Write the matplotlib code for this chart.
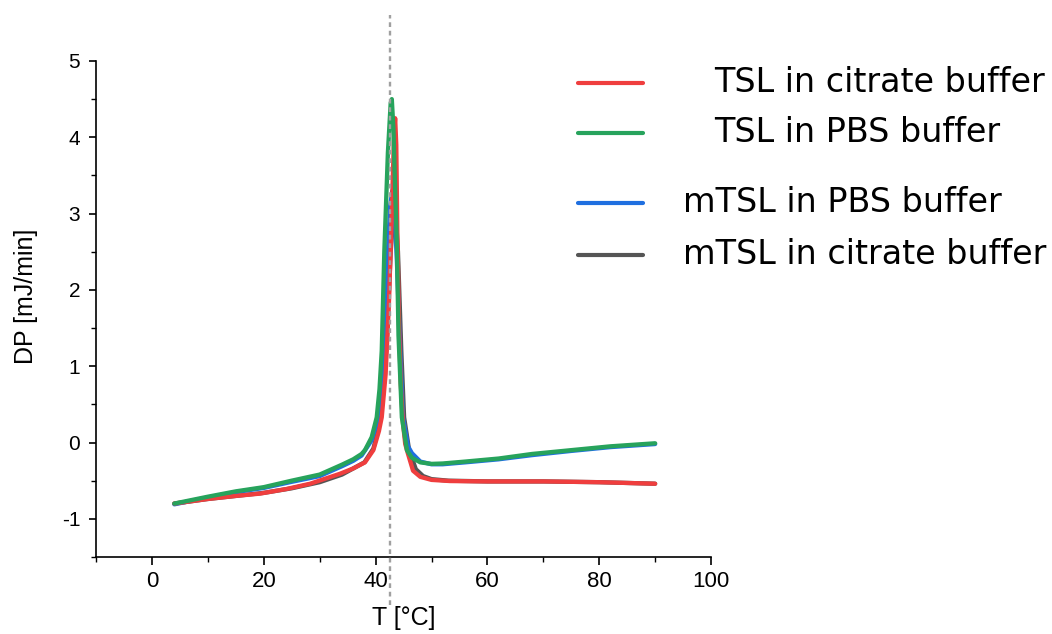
import matplotlib
matplotlib.use("Agg")
import matplotlib.pyplot as plt
from matplotlib.lines import Line2D
from matplotlib.ticker import MultipleLocator

# temperature [°C] and DP [mJ/min]
t_tsl_pbs = [4, 10, 15, 20, 25, 30, 34, 36, 37.5, 38.1, 39.3, 40.2, 40.7, 41.1, 41.56, 42.2, 42.7, 42.9,
             43.2, 43.5, 43.8, 44.1, 44.7, 45.6, 46.5, 48, 50, 52, 56, 62, 68, 75, 82, 90]
dp_tsl_pbs = [-0.80, -0.71, -0.64, -0.585, -0.50, -0.42, -0.29, -0.22, -0.15, -0.1, 0.07, 0.33, 0.7, 1.2, 2.5, 3.8, 4.45, 4.5,
              4.1, 3.3, 2.6, 1.4, 0.33, -0.1, -0.2, -0.26, -0.28, -0.275, -0.25, -0.21, -0.15, -0.10, -0.05, -0.01]

t_mtsl_pbs = [4, 10, 15, 20, 25, 30, 34, 36, 37.5, 39.3, 40.2, 41.0, 41.7, 42.2, 42.6, 43.0,
              43.4, 43.8, 44.4, 44.9, 45.8, 46.5, 48, 50, 52, 56, 62, 68, 75, 82, 90]
dp_mtsl_pbs = [-0.81, -0.72, -0.65, -0.595, -0.515, -0.44, -0.31, -0.24, -0.17, 0.03, 0.25, 0.65, 1.2, 2.5, 3.1, 3.3,
               3.0, 2.4, 1.2, 0.33, -0.05, -0.14, -0.25, -0.285, -0.285, -0.26, -0.22, -0.165, -0.11, -0.06, -0.02]

t_tsl_cit = [4, 10, 15, 19.3, 24, 28.3, 33.6, 36, 38.1, 39.6, 40.6, 41.1, 41.8, 42.4, 42.9, 43.3, 43.5,
             43.7, 43.9, 44.2, 44.5, 44.9, 45.3, 45.8, 46.7, 48, 50, 53.3, 60, 70, 80, 90]
dp_tsl_cit = [-0.80, -0.74, -0.70, -0.67, -0.61, -0.54, -0.41, -0.34, -0.26, -0.1, 0.15, 0.33, 0.9, 1.86, 3.0, 4.05, 4.25,
              3.9, 2.7, 1.5, 0.77, 0.25, -0.02, -0.15, -0.37, -0.45, -0.49, -0.505, -0.51, -0.51, -0.52, -0.54]

t_mtsl_cit = [4, 10, 15, 20, 25, 30, 34, 38, 39.6, 40.5, 41.3, 42.0, 42.7, 43.3, 43.6,
              44.0, 44.6, 45.1, 46.0, 47.2, 48.5, 50, 53, 60, 70, 80, 90]
dp_mtsl_cit = [-0.80, -0.74, -0.70, -0.66, -0.60, -0.52, -0.42, -0.26, -0.08, 0.18, 0.6, 1.3, 2.5, 3.1, 3.0,
               2.5, 1.2, 0.33, -0.1, -0.35, -0.44, -0.48, -0.50, -0.51, -0.51, -0.52, -0.54]

t_transition = 42.6

labels = ["TSL in citrate buffer", "TSL in PBS buffer", "mTSL in PBS buffer", "mTSL in citrate buffer"]
colors = ["#ef3e3e", "#27a35c", "#1f6fe0", "#555555"]

plt.rcParams["font.family"] = ["Liberation Sans", "DejaVu Sans"]
plt.rcParams["axes.unicode_minus"] = False

fig = plt.figure(figsize=(10.52, 6.34), dpi=100)
ax = fig.add_axes([0.0913, 0.1215, 0.5846, 0.7823])

lw = 3.1
for t, dp, c in [(t_mtsl_cit, dp_mtsl_cit, colors[3]), (t_mtsl_pbs, dp_mtsl_pbs, colors[2]),
                 (t_tsl_cit, dp_tsl_cit, colors[0]), (t_tsl_pbs, dp_tsl_pbs, colors[1])]:
    ax.plot(t, dp, color=c, lw=lw, solid_capstyle="round", solid_joinstyle="round")

ax.axvline(t_transition, ymin=-0.097, ymax=1.093, color="#a0a0a0", lw=1.7,
           ls=(0, (2.0, 1.6)), clip_on=False, zorder=5)

ax.set_xlim(-10, 100)
ax.set_ylim(-1.5, 5)
ax.xaxis.set_major_locator(MultipleLocator(20))
ax.xaxis.set_minor_locator(MultipleLocator(10))
ax.yaxis.set_major_locator(MultipleLocator(1))
ax.yaxis.set_minor_locator(MultipleLocator(0.5))
for s in ["top", "right"]:
    ax.spines[s].set_visible(False)
for s in ["left", "bottom"]:
    ax.spines[s].set_linewidth(1.2)
ax.tick_params(which="major", direction="out", length=5.4, width=1.2)
ax.tick_params(which="minor", direction="out", length=3.5, width=1.0)
ax.tick_params(axis="x", which="major", labelsize=16, pad=5)
ax.tick_params(axis="y", which="major", labelsize=15, pad=6)

ax.set_xlabel("T [°C]", fontsize=18)
ax.set_ylabel("DP [mJ/min]", fontsize=18)
ax.xaxis.set_label_coords(0.5, -0.098)
ax.yaxis.set_label_coords(-0.094, 0.526)

# legend drawn by hand to keep the uneven spacing of the original
leg_y = [83, 133, 203, 255]
text_x = [714, 714, 683, 683]
for lab, c, py, tx in zip(labels, colors, leg_y, text_x):
    yf = 1 - py / 634
    fig.add_artist(Line2D([578 / 1052, 643 / 1052], [yf, yf], color=c, lw=3.0,
                          solid_capstyle="round"))
    fig.text(tx / 1052, yf, lab, fontsize=24, family="DejaVu Sans", va="center", ha="left")

fig.savefig("out.png", dpi=100)
